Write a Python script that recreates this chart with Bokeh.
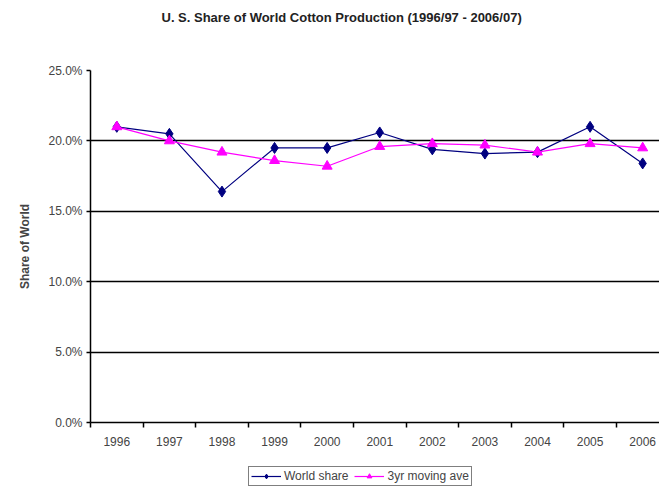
from bokeh.plotting import figure
from bokeh.models import (FixedTicker, PrintfTickFormatter, Range1d, Legend, LegendItem,
                          ColumnDataSource, Label)
from bokeh.layouts import column
from bokeh.embed import file_html
from bokeh.resources import INLINE

years = ["1996", "1997", "1998", "1999", "2000", "2001", "2002", "2003", "2004", "2005", "2006"]
world_share = [21.0, 20.5, 16.4, 19.5, 19.5, 20.6, 19.4, 19.1, 19.2, 21.0, 18.4]
moving_avg = [21.0, 20.0, 19.2, 18.6, 18.2, 19.6, 19.8, 19.7, 19.2, 19.8, 19.5]
y_ticks = [0, 5, 10, 15, 20, 25]
title_text = "U. S. Share of World Cotton Production (1996/97 - 2006/07)"

FONT = "Liberation Sans"
NAVY = "#000080"
PINK = "#FF00FF"
xs = list(range(len(years)))
src = ColumnDataSource(dict(x=xs, w=world_share, m=moving_avg))


def blank_strip(h):
    f = figure(width=659, height=h, output_backend="svg", toolbar_location=None,
               x_range=Range1d(100, 101), y_range=Range1d(100, 101),
               min_border_left=0, min_border_right=0, min_border_top=0, min_border_bottom=0)
    f.axis.visible = False
    f.grid.visible = False
    f.outline_line_color = None
    f.background_fill_color = "white"
    f.border_fill_color = "white"
    return f

# title strip
t = blank_strip(35)
t.add_layout(Label(x=71, y=18, x_units="screen", y_units="screen", text=title_text,
                   text_font=FONT, text_font_size="13px", text_font_style="bold",
                   text_baseline="middle", text_align="left", text_color="#222222"))

p = figure(width=659, height=417, output_backend="svg", toolbar_location=None,
           x_range=Range1d(-0.5, 10.32), y_range=Range1d(0, 25),
           min_border_left=90, min_border_right=0, min_border_top=35, min_border_bottom=30)
p.outline_line_color = None
p.background_fill_color = "white"
p.border_fill_color = "white"

# x axis
p.xaxis.ticker = FixedTicker(ticks=xs, minor_ticks=[i - 0.5 for i in range(len(years))])
p.xaxis.major_label_overrides = {i: y for i, y in enumerate(years)}
p.xaxis.major_tick_out = 0
p.xaxis.major_tick_in = 0
p.xaxis.minor_tick_out = 5
p.xaxis.minor_tick_in = 0
p.xaxis.minor_tick_line_color = "black"
p.xaxis.minor_tick_line_width = 1.5
p.xaxis.axis_line_color = "black"
p.xaxis.axis_line_width = 1.5
p.xaxis.major_label_text_font = FONT
p.xaxis.major_label_text_font_size = "12px"
p.xaxis.major_label_standoff = 9
p.xgrid.visible = False

# y axis
p.yaxis.ticker = FixedTicker(ticks=y_ticks, minor_ticks=[])
p.yaxis.formatter = PrintfTickFormatter(format="%.1f%%")
p.yaxis.major_tick_out = 4
p.yaxis.major_tick_in = 0
p.yaxis.major_tick_line_color = "black"
p.yaxis.major_tick_line_width = 1.5
p.yaxis.axis_line_color = "black"
p.yaxis.axis_line_width = 1.5
p.yaxis.major_label_text_font = FONT
p.yaxis.major_label_text_font_size = "12px"
p.yaxis.major_label_standoff = 4
p.yaxis.axis_label = "Share of World"
p.yaxis.axis_label_text_font = FONT
p.yaxis.axis_label_text_font_size = "12px"
p.yaxis.axis_label_text_font_style = "bold"
p.yaxis.axis_label_standoff = 13
p.ygrid.ticker = FixedTicker(ticks=y_ticks)
p.ygrid.grid_line_color = "black"
p.ygrid.grid_line_width = 1.5


def add_series(fig):
    a = fig.line("x", "w", source=src, line_color=NAVY, line_width=1.2)
    b = fig.scatter("x", "w", source=src, marker="diamond", size=11, fill_color=NAVY, line_color=NAVY)
    c = fig.line("x", "m", source=src, line_color=PINK, line_width=1.2)
    d = fig.scatter("x", "m", source=src, marker="triangle", size=10, fill_color=PINK, line_color=PINK)
    return a, b, c, d

add_series(p)

# legend strip below the chart
q = blank_strip(40)
l1, m1, l2, m2 = add_series(q)
legend = Legend(items=[LegendItem(label="World share", renderers=[l1, m1]),
                       LegendItem(label="3yr moving ave", renderers=[l2, m2])],
                orientation="horizontal", location=(158, 6))
legend.label_text_font = FONT
legend.label_text_font_size = "12px"
legend.border_line_color = "black"
legend.border_line_width = 1
legend.background_fill_color = "white"
legend.background_fill_alpha = 1
legend.padding = 2
legend.spacing = 6
legend.margin = 0
legend.glyph_width = 30
legend.glyph_height = 12
legend.label_standoff = 3
legend.label_height = 12
q.add_layout(legend)

layout = column(t, p, q, spacing=0)
open("out.html", "w").write(file_html(layout, INLINE))
